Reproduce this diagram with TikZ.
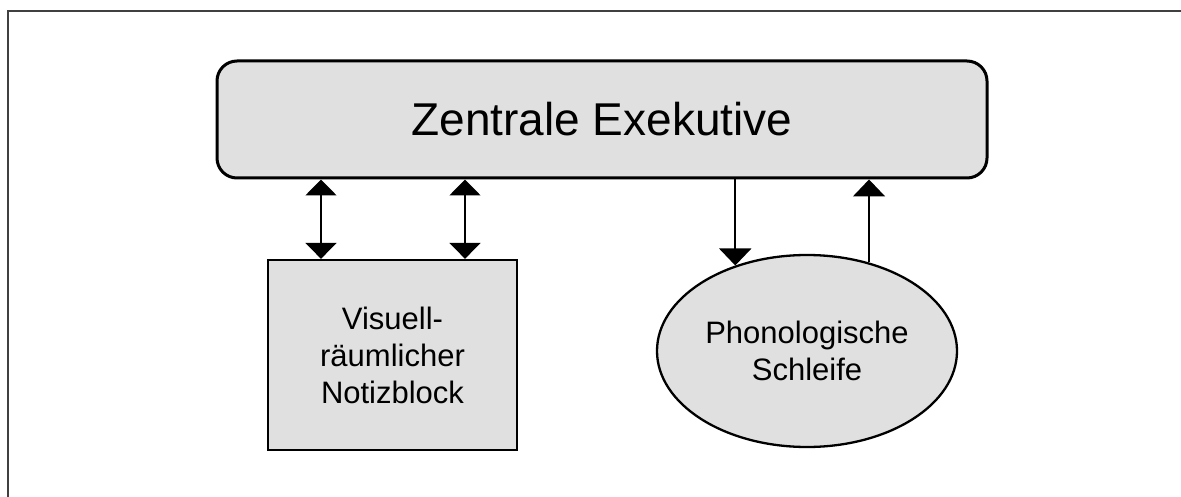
\documentclass[tikz,border=0pt]{standalone}
\usepackage{fontspec}
\setmainfont{Liberation Sans}
\usetikzlibrary{arrows.meta,shapes.geometric}
\definecolor{boxfill}{HTML}{E0E0E0}
\definecolor{frame}{HTML}{404040}
\tikzset{
  box/.style={draw=black, fill=boxfill, inner sep=0pt, align=center},
  conn/.style={line width=2pt, draw=black},
  inner/.style={font=\fontsize{31}{37}\selectfont},
}
\begin{document}
\begin{tikzpicture}[x=1pt,y=-1pt]
\useasboundingbox (0,0) rectangle (1181,497);
\draw[frame, line width=2pt] (8,497) -- (8,11) -- (1181,11);
\node[box, line width=3pt, rounded corners=20pt, minimum width=770pt, minimum height=117pt, font=\fontsize{46}{54}\selectfont]
  (ze) at (602,119.5) {Zentrale Exekutive};
\node[box, inner, line width=2.3pt, minimum width=249pt, minimum height=190pt]
  (vn) at (392.5,355) {Visuell-\\räumlicher\\Notizblock};
\node[box, inner, ellipse, line width=2.3pt, minimum width=300pt, minimum height=192pt]
  (ps) at (807,351) {Phonologische\\Schleife};
\draw[conn, {Triangle[length=16pt, width=31pt]}-{Triangle[length=16pt, width=31pt]}] (ze.south -| 321,0) -- (vn.north -| 321,0);
\draw[conn, {Triangle[length=16pt, width=31pt]}-{Triangle[length=16pt, width=31pt]}] (ze.south -| 465,0) -- (vn.north -| 465,0);
\coordinate (d) at (ps.130);
\coordinate (u) at (ps.55);
\draw[conn, -{Triangle[length=17pt, width=32pt]}] (ze.south -| d) -- (d);
\draw[conn, -{Triangle[length=17pt, width=32pt]}] (u) -- (ze.south -| u);
\end{tikzpicture}
\end{document}
